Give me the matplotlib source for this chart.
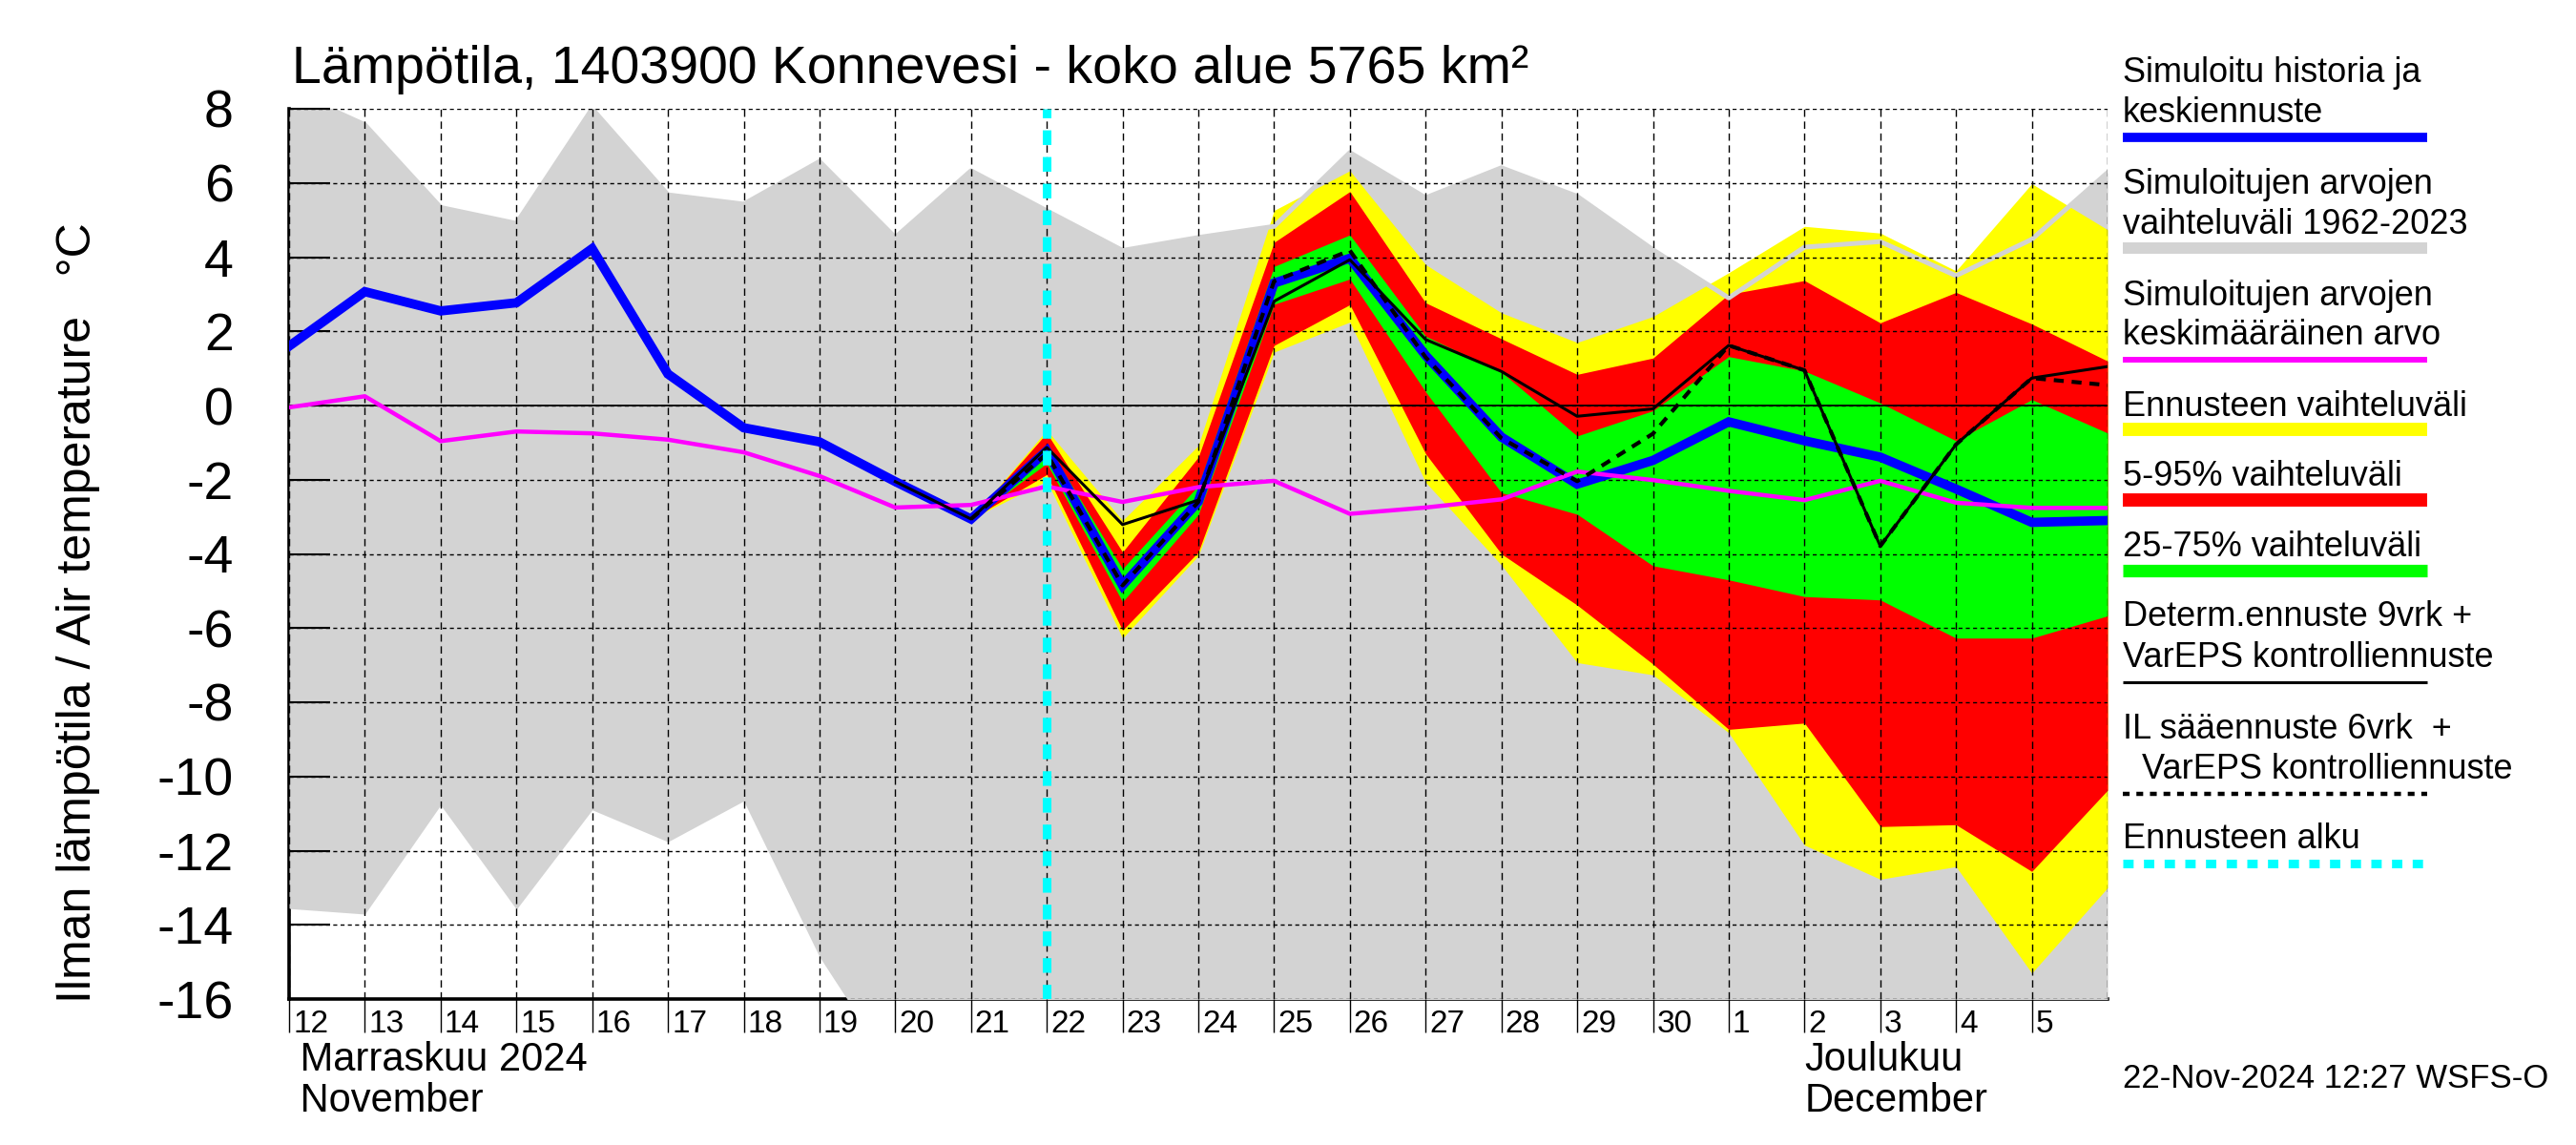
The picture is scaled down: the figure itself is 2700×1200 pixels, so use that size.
import numpy as np
import pandas as pd
import matplotlib
matplotlib.use('Agg')
import matplotlib.pyplot as plt
import matplotlib.transforms as mtransforms

plt.rcParams['font.family'] = ['Liberation Sans', 'DejaVu Sans']

# daily dates, Nov 12 .. Dec 6 2024
dates = pd.date_range('2024-11-12', '2024-12-06', freq='D')

# historical range 1962-2023 (gray band)
hist_max = [8.5, 7.57, 5.34, 4.91, 8.0, 5.68, 5.43, 6.58, 4.53, 6.33, 5.25, 4.18, 4.53,
            4.83, 6.82, 5.6, 6.41, 5.64, 4.2, 2.9, 4.27, 4.42, 3.5, 4.48, 6.28]
hist_min = [-13.56, -13.71, -10.77, -13.58, -10.9, -11.76, -10.66, -14.86, -18.0, -18.5, -18.5,
            -18.5, -18.5, -18.5, -18.5, -18.5, -18.5, -18.5, -18.5, -18.5, -18.5, -18.5,
            -18.5, -18.5, -18.5]
# mean of simulated values
hist_mean = [-0.05, 0.25, -0.96, -0.70, -0.75, -0.92, -1.26, -1.9, -2.75, -2.68, -2.18, -2.6,
             -2.2, -2.03, -2.92, -2.75, -2.53, -1.78, -2.01, -2.3, -2.55, -2.03, -2.62, -2.76, -2.76]
# simulated history + mean forecast
sim_mean = [1.6, 3.07, 2.55, 2.77, 4.23, 0.85, -0.6, -0.98, -2.05, -3.06, -1.22, -4.85, -2.59,
            3.3, 3.97, 1.35, -0.85, -2.12, -1.48, -0.44, -0.95, -1.39, -2.25, -3.15, -3.1]

# forecast bands, Nov 21 .. Dec 6
fc_start = 9
yellow_hi = [-3.06, -0.66, -3.1, -1.08, 5.26, 6.33, 3.8, 2.5, 1.7, 2.4, 3.58, 4.83, 4.65, 3.63, 5.98, 4.74]
red_hi = [-3.06, -0.74, -3.95, -1.39, 4.4, 5.77, 2.77, 1.8, 0.84, 1.28, 3.0, 3.37, 2.23, 3.05, 2.2, 1.2]
green_hi = [-3.06, -1.05, -4.4, -2.16, 3.75, 4.6, 1.87, 0.9, -0.82, -0.14, 1.32, 0.93, 0.07, -0.95, 0.16, -0.74]
green_lo = [-3.06, -1.56, -5.29, -2.94, 2.73, 3.41, 0.37, -2.35, -2.93, -4.32, -4.7, -5.15, -5.24, -6.27, -6.27, -5.67]
red_lo = [-3.06, -1.86, -6.06, -3.95, 1.62, 2.72, -1.3, -4.0, -5.38, -6.97, -8.73, -8.56, -11.35, -11.3, -12.56, -10.37]
yellow_lo = [-3.06, -2.03, -6.27, -4.05, 1.44, 2.25, -2.07, -4.3, -6.93, -7.26, -8.82, -11.85, -12.77, -12.43, -15.3, -13.0]

# deterministic 9 d + VarEPS control, Nov 20 .. Dec 6
det_start = 8
determ = [-2.05, -3.06, -1.13, -3.21, -2.55, 2.81, 3.93, 1.78, 0.92, -0.29, -0.09, 1.62, 0.95,
          -3.79, -1.05, 0.74, 1.05]
# IL 6 d + VarEPS control, Nov 21 .. Dec 6
il_start = 9
il_fc = [-3.06, -1.3, -4.85, -2.6, 3.35, 4.18, 1.3, -0.88, -2.04, -0.76, 1.62, 0.95, -3.79,
         -1.05, 0.74, 0.55]

fc_begin = pd.Timestamp('2024-11-22')

fig = plt.figure(figsize=(27, 12), dpi=100)
ax = fig.add_axes([303 / 2700, 1 - 1047 / 1200, (2209 - 303) / 2700, (1047 - 114) / 1200])

d_fc = dates[fc_start:]
ax.fill_between(dates, hist_min, hist_max, color='#d3d3d3', lw=0, zorder=1)
ax.fill_between(d_fc, yellow_lo, yellow_hi, color='#ffff00', lw=0, zorder=1.01)
ax.fill_between(d_fc, red_lo, red_hi, color='#ff0000', lw=0, zorder=1.02)
ax.fill_between(d_fc, green_lo, green_hi, color='#00ff00', lw=0, zorder=1.03)
ax.plot(dates, hist_max, color='#d3d3d3', lw=3.6, zorder=1.1)

ax.axhline(0, color='k', lw=1.3, zorder=1.6)
ax.axvline(dates[-1], color='k', lw=1.0, ls=(0, (5.5, 3.5)), zorder=1.6)

ax.plot(dates, sim_mean, color='#0000ff', lw=7, zorder=2, solid_joinstyle='miter')
ax.plot(dates, hist_mean, color='#ff00ff', lw=3.2, zorder=2.1)
ax.plot(dates[det_start:], determ, color='k', lw=2.2, zorder=2.2)
ax.plot(dates[il_start:], il_fc, color='k', lw=3.0, ls=(0, (2.5, 2.0)), zorder=2.3)
ax.axvline(fc_begin, color='#00ffff', lw=6.5, ls=(0, (1.7, 1.4)), zorder=2.4)

ax.set_xlim(dates[0], dates[-1])
ax.set_ylim(-16, 8)

ax.set_yticks(range(-16, 9, 2))
ax.set_yticklabels([str(v) for v in range(-16, 9, 2)])
ax.tick_params(axis='y', direction='in', length=31, width=1.5, labelsize=40, pad=42)

ax.set_xticks(dates[:-1])
ax.set_xticklabels([str(d.day) for d in dates[:-1]], ha='left')
ax.tick_params(axis='x', direction='out', length=25, width=1.0, labelsize=24, pad=-17)
offset = mtransforms.ScaledTranslation(4 / 100, 0, fig.dpi_scale_trans)
for lbl in ax.get_xticklabels():
    lbl.set_transform(lbl.get_transform() + offset)
ax.set_xticks([pd.Timestamp('2024-12-01')], minor=True)
ax.tick_params(axis='x', which='minor', direction='out', length=50, width=1.0, color='0.35')

ax.xaxis.grid(True, which='major', color='k', lw=1.0, ls=(0, (5.5, 3.5)))
ax.yaxis.grid(True, color='k', lw=1.0, ls=(0, (3, 2.5)))

for s in ['top', 'right']:
    ax.spines[s].set_visible(False)
for s in ['left', 'bottom']:
    ax.spines[s].set_linewidth(2.6)
    ax.spines[s].set_zorder(0.5)

xt = ax.get_xaxis_transform()
ax.text(dates[0], -0.0804, ' Marraskuu 2024', transform=xt, fontsize=30, va='baseline', ha='left')
ax.text(dates[0], -0.1265, ' November', transform=xt, fontsize=30, va='baseline', ha='left')
ax.text(pd.Timestamp('2024-12-02'), -0.0804, 'Joulukuu', transform=xt, fontsize=30, va='baseline', ha='left')
ax.text(pd.Timestamp('2024-12-02'), -0.1265, 'December', transform=xt, fontsize=30, va='baseline', ha='left')

fig.text(306 / 2700, 1 - 87 / 1200, 'Lämpötila, 1403900 Konnevesi - koko alue 5765 km²',
         fontsize=40, va='baseline', ha='left')
fig.text(82 / 2700, 1 - 642 / 1200, 'Ilman lämpötila / Air temperature   °C',
         fontsize=36, rotation=90, va='center', ha='center')

# legend drawn in pixel coordinates on an overlay
lax = fig.add_axes([0, 0, 1, 1], facecolor='none')
lax.set_xlim(0, 2700)
lax.set_ylim(1200, 0)
lax.axis('off')

legend_items = [
    (['Simuloitu historia ja', 'keskiennuste'], [86, 128], 144, '#0000ff', 7, '-'),
    (['Simuloitujen arvojen', 'vaihteluväli 1962-2023'], [203, 245], 260, '#d3d3d3', 8.6, '-'),
    (['Simuloitujen arvojen', 'keskimääräinen arvo'], [320, 361], 377, '#ff00ff', 4.3, '-'),
    (['Ennusteen vaihteluväli'], [436], 450, '#ffff00', 10, '-'),
    (['5-95% vaihteluväli'], [509], 524, '#ff0000', 10, '-'),
    (['25-75% vaihteluväli'], [583], 598, '#00ff00', 9.5, '-'),
    (['Determ.ennuste 9vrk +', 'VarEPS kontrolliennuste'], [656, 699], 715, 'k', 2.2, '-'),
    (['IL sääennuste 6vrk  +', '  VarEPS kontrolliennuste'], [774, 816], 832, 'k', 3.2, (0, (1.6, 1.6))),
    (['Ennusteen alku'], [889], 905, '#00ffff', 6.5, (0, (1.2, 1.2))),
]
for lines, ys, ly, col, lw, ls in legend_items:
    for txt, yy in zip(lines, ys):
        lax.text(2225, yy, txt, fontsize=26, va='baseline', ha='left')
    lax.plot([2225, 2544], [ly, ly], color=col, lw=lw, ls=ls, solid_capstyle='butt')

lax.text(2225, 1140, '22-Nov-2024 12:27 WSFS-O', fontsize=25, va='baseline', ha='left')

fig.savefig('out.png', dpi=100)
